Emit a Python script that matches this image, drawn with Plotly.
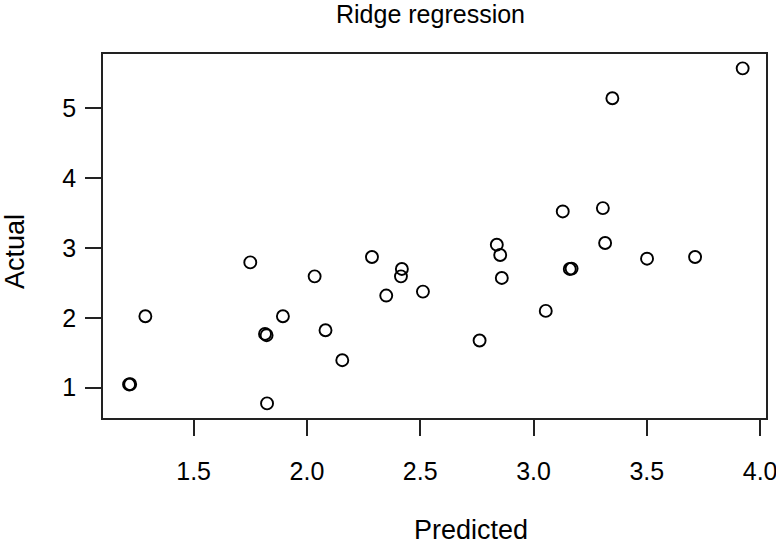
import plotly.graph_objects as go

predicted = [1.215, 1.220, 1.287, 1.750, 1.815, 1.822, 1.824, 1.894, 2.034, 2.082,
             2.156, 2.287, 2.350, 2.419, 2.415, 2.512, 2.838, 2.853, 2.860, 2.762,
             3.054, 3.160, 3.168, 3.316, 3.501, 3.713, 3.923, 3.348, 3.129, 3.306]
actual = [1.047, 1.050, 2.023, 2.794, 1.770, 1.752, 0.776, 2.023, 2.594, 1.823,
          1.394, 2.871, 2.319, 2.700, 2.594, 2.376, 3.047, 2.900, 2.571, 1.676,
          2.100, 2.700, 2.705, 3.071, 2.847, 2.871, 5.571, 5.143, 3.523, 3.571]

x_ticks = [1.5, 2.0, 2.5, 3.0, 3.5, 4.0]
x_tick_labels = ["1.5", "2.0", "2.5", "3.0", "3.5", "4.0"]
y_ticks = [1, 2, 3, 4, 5]
y_tick_labels = ["1", "2", "3", "4", "5"]

FONT = "Liberation Sans, Arial, Helvetica, sans-serif"

fig = go.Figure()
fig.add_trace(go.Scatter(
    x=predicted, y=actual, mode="markers",
    marker=dict(symbol="circle-open", size=12, color="black", line=dict(width=1.9, color="black")),
    showlegend=False, hoverinfo="x+y",
))

W, H = 776, 544
L, R, T, B = 103, 10, 54, 126
PW, PH = W - L - R, H - T - B


def px_to_paper_x(px):
    return (px - L) / PW


def px_to_paper_y(py):
    return (H - B - py) / PH


fig.update_layout(
    template="none",
    width=W, height=H,
    margin=dict(l=L, r=R, t=T, b=B, pad=0, autoexpand=False),
    paper_bgcolor="white", plot_bgcolor="white",
    font=dict(family=FONT, color="black", size=22),
    xaxis=dict(
        range=[1.100, 4.026], tickvals=x_ticks, ticktext=x_tick_labels, automargin=False,
        showgrid=False, zeroline=False, showline=True, linecolor="#222", linewidth=1.6,
        mirror=True, ticks="outside", ticklen=16, tickwidth=1.6, tickcolor="#222",
        tickfont=dict(size=25, family=FONT, color="black"), ticklabelstandoff=14,
        ticklabeloverflow="allow",
    ),
    yaxis=dict(
        range=[0.567, 5.776], tickvals=y_ticks, ticktext=y_tick_labels, automargin=False,
        showgrid=False, zeroline=False, showline=True, linecolor="#222", linewidth=1.6,
        mirror=True, ticks="outside", ticklen=16, tickwidth=1.6, tickcolor="#222",
        tickfont=dict(size=25, family=FONT, color="black"), ticklabelstandoff=4,
        ticklabeloverflow="allow",
    ),
    annotations=[
        dict(text="Ridge regression", x=px_to_paper_x(430), y=px_to_paper_y(14),
             xref="paper", yref="paper", xanchor="center", yanchor="middle",
             showarrow=False, font=dict(size=25, family=FONT, color="black")),
        dict(text="Predicted", x=px_to_paper_x(471), y=px_to_paper_y(530),
             xref="paper", yref="paper", xanchor="center", yanchor="middle",
             showarrow=False, font=dict(size=27, family=FONT, color="black")),
        dict(text="Actual", x=px_to_paper_x(15), y=px_to_paper_y(252),
             xref="paper", yref="paper", xanchor="center", yanchor="middle",
             textangle=-90, showarrow=False, font=dict(size=27, family=FONT, color="black")),
    ],
)

# Remove the browser's default 8px body margin so the figure fills the window exactly.
fig.write_html(
    "out.html",
    config={"displayModeBar": False},
    post_script="document.body.style.margin='0';document.body.style.overflow='hidden';",
)
